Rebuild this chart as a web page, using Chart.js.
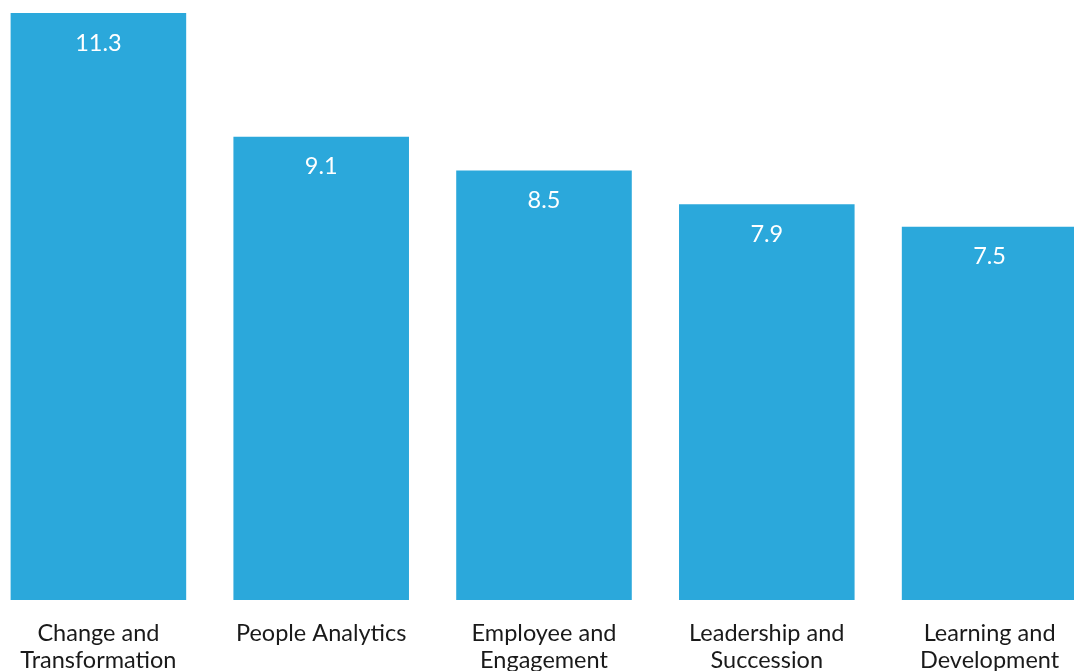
<!DOCTYPE html>
<html>
<head>
<meta charset="utf-8">
<script src="https://cdn.jsdelivr.net/npm/chart.js@4/dist/chart.umd.min.js"></script>
<style>
  html, body { margin: 0; padding: 0; width: 1074px; height: 671px; overflow: hidden; background: #ffffff; }
  #wrap { position: absolute; left: -13px; top: 0; width: 1114px; height: 700px; }
</style>
</head>
<body>
<div id="wrap"><canvas id="c"></canvas></div>
<script>
const categories = [
  ["Change and", "Transformation"],
  "People Analytics",
  ["Employee and", "Engagement"],
  ["Leadership and", "Succession"],
  ["Learning and", "Development"]
];
const values = [11.3, 9.1, 8.5, 7.9, 7.5];
const valueLabels = ["11.3", "9.1", "8.5", "7.9", "7.5"];

const barColor = "rgb(43,168,219)";
const FONT = "Lato, 'Open Sans', sans-serif";

const valuePlugin = {
  id: "valuePlugin",
  afterDatasetsDraw(chart) {
    const ctx = chart.ctx;
    const meta = chart.getDatasetMeta(0);
    ctx.save();
    ctx.fillStyle = "#ffffff";
    ctx.font = "23.5px " + FONT;
    ctx.textAlign = "center";
    ctx.textBaseline = "middle";
    meta.data.forEach((bar, i) => {
      ctx.fillText(valueLabels[i], bar.x, bar.y + 30);
    });
    ctx.restore();
  }
};

new Chart(document.getElementById("c"), {
  type: "bar",
  data: {
    labels: categories,
    datasets: [{
      data: values,
      backgroundColor: barColor,
      borderWidth: 0,
      barPercentage: 0.788,
      categoryPercentage: 1.0
    }]
  },
  options: {
    responsive: true,
    maintainAspectRatio: false,
    animation: false,
    layout: { padding: { top: 13, left: 0, right: 0, bottom: 0 } },
    plugins: { legend: { display: false }, tooltip: { enabled: false } },
    scales: {
      x: {
        grid: { display: false, drawTicks: false },
        border: { display: false },
        ticks: {
          color: "#1a1a1a",
          padding: 20,
          maxRotation: 0,
          autoSkip: false,
          font: { family: FONT, size: 23.5, lineHeight: 1.15 }
        },
        afterFit(scale) { scale.height = 100; }
      },
      y: {
        display: false,
        min: 0.87,
        max: 11.3
      }
    }
  },
  plugins: [valuePlugin]
});
</script>
</body>
</html>
